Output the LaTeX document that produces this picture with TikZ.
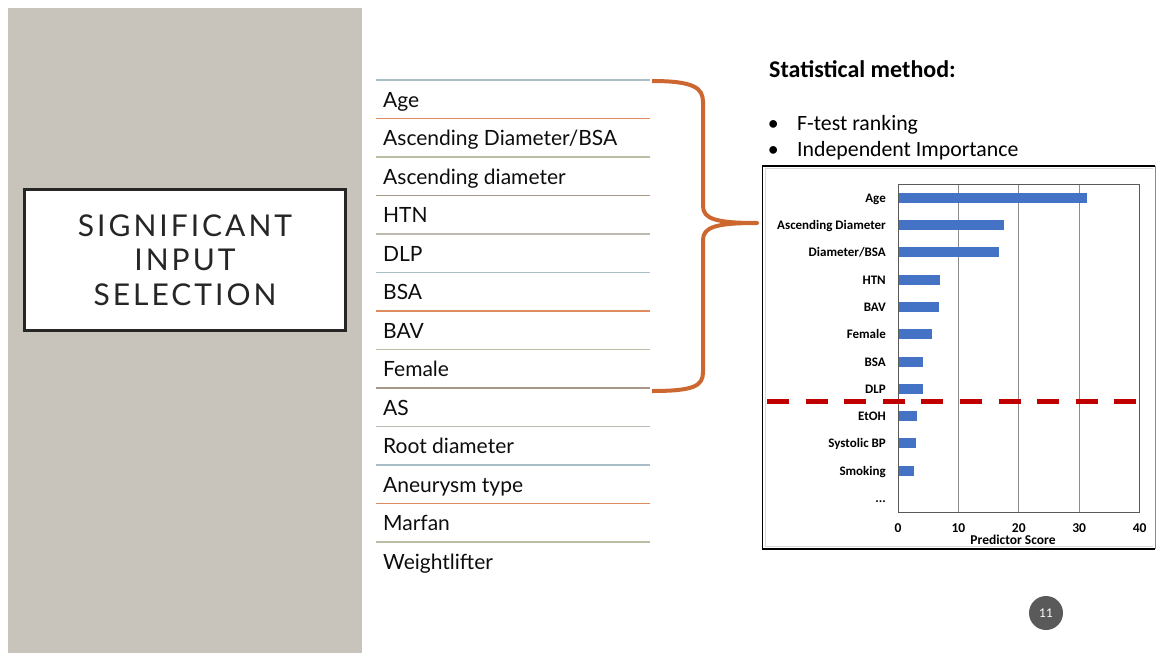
\documentclass[tikz,border=0pt]{standalone}
\usepackage{fontspec}
\setmainfont{Lato}
\newfontfamily\calibri{Carlito}
\newfontfamily\spacedfont[LetterSpace=10]{Lato}
\usetikzlibrary{positioning,calc}

\definecolor{panelgray}{RGB}{200,195,187}
\definecolor{rulebluegray}{RGB}{170,190,200}
\definecolor{ruleorange}{RGB}{222,140,95}
\definecolor{ruleolive}{RGB}{185,190,165}
\definecolor{ruletaupe}{RGB}{165,152,135}
\definecolor{rulegray}{RGB}{190,186,176}
\definecolor{braceorange}{RGB}{204,103,48}
\definecolor{barblue}{RGB}{68,114,196}
\definecolor{cutred}{RGB}{192,0,0}
\definecolor{pagegray}{RGB}{90,90,90}

\begin{document}
\begin{tikzpicture}[x=1pt, y=-1pt,
    titlebox/.style={draw=black!85, line width=2.5pt, fill=white, minimum width=321pt, minimum height=141pt, align=center, text=black!85, font=\spacedfont\fontsize{30}{34.5}\selectfont},
    item/.style={anchor=base west, inner sep=0pt, text=black!95, font=\fontsize{21}{25}\selectfont},
    rowrule/.style={line width=1.2pt},
    brace/.style={braceorange, line width=4pt, line join=round},
    stathead/.style={anchor=base west, inner sep=0pt, font=\calibri\bfseries\fontsize{24}{28}\selectfont},
    bullettext/.style={anchor=base west, inner sep=0pt, font=\calibri\fontsize{21.8}{26}\selectfont},
    barlabel/.style={anchor=base east, inner sep=0pt, font=\calibri\bfseries\fontsize{13}{15}\selectfont},
    ticklabel/.style={anchor=base, inner sep=0pt, font=\calibri\bfseries\fontsize{13.5}{15}\selectfont},
    gridline/.style={black!45, line width=0.8pt},
    cutline/.style={cutred, line width=5pt, dash pattern=on 22pt off 16.6pt}]

        \useasboundingbox (0,0) rectangle (1157,653);

        % Side panel
        \fill[panelgray] (8,8) rectangle (362,653);
        \node[titlebox] (title) at (185,260) {SIGNIFICANT\\INPUT\\SELECTION};

        % Input list
        \foreach \c [count=\k from 0] in {rulebluegray,ruleorange,ruleolive,ruletaupe,rulegray,rulebluegray,ruleorange,ruleolive,ruletaupe,rulegray,rulebluegray,ruleorange,ruleolive}
            \draw[rowrule, \c] (376,{80+38.5*\k}) -- (650,{80+38.5*\k});
        \foreach \txt [count=\i] in {Age, Ascending Diameter/BSA, Ascending diameter, HTN, DLP, BSA, BAV, Female, AS, Root diameter, Aneurysm type, Marfan, Weightlifter}
            \node[item] (row\i) at (383,{80+38.5*(\i-1)+27}) {\txt};

        % Brace
        \coordinate (brace_top) at (652,81);
        \coordinate (brace_bot) at (652,391);
        \coordinate (tip) at (757,223);
        \draw[brace] (brace_top) .. controls (694,81) and (703,88) .. (703,102) -- (703,206)
            .. controls (703,219) and (716,223) .. (tip)
            .. controls (716,223) and (703,227) .. (703,240) -- (703,372)
            .. controls (703,386) and (694,391) .. (brace_bot);

        % Statistical method
        \node[stathead] (stat) at (769,77) {Statistical method:};
        \node[bullettext] (m1) at (797,130) {F-test ranking};
        \node[bullettext] (m2) at (797,156) {Independent Importance};
        \node[bullettext, anchor=base east] (dot1) at ([xshift=-18pt]m1.base west) {\textbullet};
        \node[bullettext, anchor=base east] (dot2) at ([xshift=-18pt]m2.base west) {\textbullet};

        % Chart
        \draw[black!45, line width=0.8pt] (1155,166) -- (1155,549);
        \draw[black, line width=1.8pt] (1155,166) -- (762.5,166) -- (762.5,549) -- (1155,549);
        \draw[black!15, line width=0.5pt] (1153,168.5) -- (765,168.5) -- (765,546.5) -- (1153,546.5);
        \foreach \v in {10,20,30}
            \draw[gridline] ({898+6.04*\v},184) -- ({898+6.04*\v},512);
        \foreach \lab/\val [count=\i] in {Age/31.3, Ascending Diameter/17.5, Diameter{/}BSA/16.7, HTN/7.0, BAV/6.8, Female/5.6, BSA/4.1, DLP/4.1, EtOH/3.1, Systolic BP/2.9, Smoking/2.6}
        {
            \pgfmathsetmacro\yc{197.7+27.3*(\i-1)}
            \fill[barblue] (898,{\yc-5}) rectangle ({898+6.04*\val},{\yc+5});
            \node[barlabel] (lab\i) at (886,{\yc+4.5}) {\lab};
        }
        \node[barlabel] (lab12) at (886,502) {...};
        \draw[black!65, line width=1pt] (898,184) rectangle (1139.6,512);
        \foreach \v in {0,10,20,30,40}
            \node[ticklabel] (tick\v) at ({898+6.04*\v},532) {\v};
        \node[ticklabel] (axisname) at (1013,544) {Predictor Score};

        % Cut-off
        \coordinate (cut_l) at (767,401);
        \coordinate (cut_r) at (1137,401);
        \draw[cutline] (cut_l) -- (cut_r);

        % Page number
        \node[circle, fill=pagegray, minimum size=34pt, inner sep=0pt, text=white, font=\fontsize{12}{14}\selectfont] (page) at (1046,613) {11};

    \end{tikzpicture}
\end{document}
